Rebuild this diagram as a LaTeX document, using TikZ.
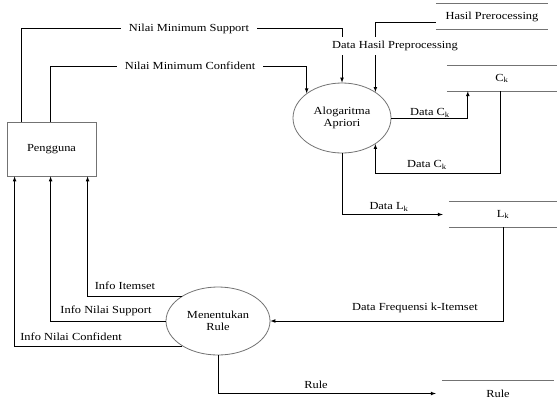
\documentclass[tikz,border=0pt]{standalone}
\usepackage{fontspec}
\setmainfont[FakeStretch=1.15]{Liberation Serif}
\usetikzlibrary{shapes.geometric}

\begin{document}
\begin{tikzpicture}
	[x=1pt, y=-1pt,
	font=\fontsize{10.8}{12}\selectfont,
	entity/.style={draw=gray!90!black, line width=0.8pt, minimum width=89pt, minimum height=54pt},
	process/.style={ellipse, draw=gray!90!black, line width=0.8pt, align=center, inner sep=0pt},
	store/.style={minimum height=25pt, inner sep=0pt},
	storeline/.style={gray!90!black, line width=1pt},
	flow/.style={-latex, black, line width=0.7pt},
	lbl/.style={fill=white, inner xsep=8pt, inner ysep=4pt}]
	
	\useasboundingbox (0,0) rectangle (557,405);
	
	% Draw external entity
	\node[entity] (pengguna) at (51.5,149) {Pengguna};
	
	% Draw processes
	\node[process, minimum width=98pt, minimum height=70pt] (apriori) at (342,118) {Alogaritma\\Apriori};
	\node[process, minimum width=104pt, minimum height=68pt] (menentukan) at (218,321) {Menentukan\\Rule};
	
	% Draw data stores
	\node[store, minimum width=112pt] (hasil) at (492,16.5) {Hasil Prerocessing};
	\draw[storeline] (hasil.north west) -- (hasil.north east);
	\draw[storeline] (hasil.south west) -- (hasil.south east);
	
	\node[store, minimum width=110pt] (ck) at (502,78.5) {C\textsubscript{k}};
	\draw[storeline] (ck.north west) -- (ck.north east);
	\draw[storeline] (ck.south west) -- (ck.south east);
	
	\node[store, minimum width=108pt] (lk) at (503,214.5) {L\textsubscript{k}};
	\draw[storeline] (lk.north west) -- (lk.north east);
	\draw[storeline] (lk.south west) -- (lk.south east);
	
	\node[store, minimum width=112pt] (rulestore) at (498,393.5) {Rule};
	\draw[storeline] (rulestore.north west) -- (rulestore.north east);
	
	% Draw flows into Alogaritma Apriori
	\draw[flow] ([xshift=15pt]pengguna.north west) |- ([yshift=54pt]apriori.north) -- (apriori.north);
	\draw[flow] ([xshift=44pt]pengguna.north west) |- ([yshift=27pt]apriori.145) -- (apriori.145);
	\draw[flow] ([yshift=-5.5pt]hasil.west) -| (apriori.38);
	\draw[flow] (apriori.east) -| ([xshift=21pt]ck.south west);
	\draw[flow] ([xshift=54pt]ck.south west) |- ([yshift=-29pt]apriori.-38) -- (apriori.-38);
	\draw[flow] (apriori.south) |- ([xshift=-6pt]lk.west);
	
	% Draw flows of Menentukan Rule
	\draw[flow] (lk.south) |- (menentukan.east);
	\draw[flow] (menentukan.145) -| ([xshift=81pt]pengguna.south west);
	\draw[flow] (menentukan.west) -| ([xshift=44pt]pengguna.south west);
	\draw[flow] (menentukan.215) -| ([xshift=8pt]pengguna.south west);
	\draw[flow] (menentukan.south) |- ([xshift=-6pt]rulestore.west);
	
	% Draw labels
	\node[lbl] (support) at (189,29) {Nilai Minimum Support};
	\node[lbl] (confident) at (190,66) {Nilai Minimum Confident};
	\node[lbl] (datahasil) at (395,46) {Data Hasil Preprocessing};
	\node (datack) at (430,113) {Data C\textsubscript{k}};
	\node (datackback) at (427,165) {Data C\textsubscript{k}};
	\node (datalk) at (389,207) {Data L\textsubscript{k}};
	\node (frequensi) at (415,308) {Data Frequensi k-Itemset};
	\node (itemset) at (125,286) {Info Itemset};
	\node (infosupport) at (106,311) {Info Nilai Support};
	\node (infoconfident) at (71,337) {Info Nilai Confident};
	\node (rule) at (316,385) {Rule};
	
\end{tikzpicture}
\end{document}
